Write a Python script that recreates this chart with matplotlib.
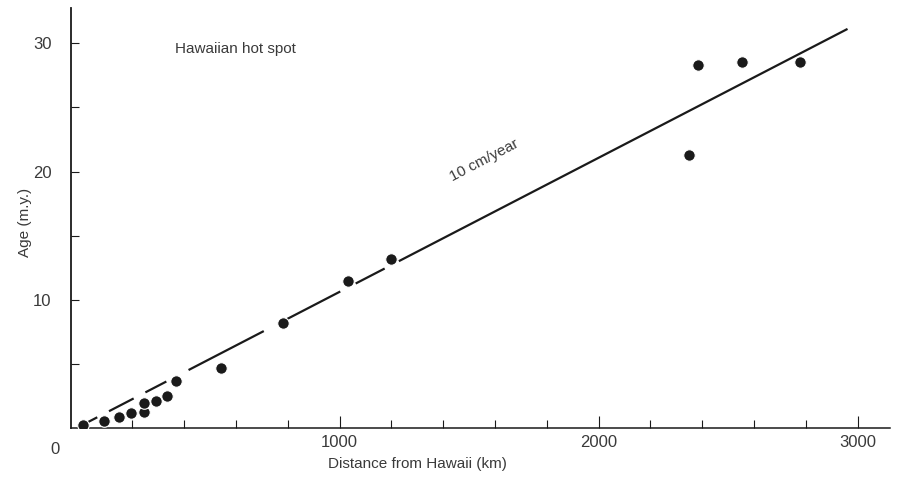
import numpy as np
import matplotlib.pyplot as plt

# ---- data ----
dist_km = [8, 92, 150, 194, 243, 243, 290, 335, 368, 542, 783, 1032, 1198,
           2348, 2383, 2553, 2779]
age_my = [0.27, 0.6, 0.87, 1.18, 1.3, 2.0, 2.14, 2.5, 3.7, 4.7, 8.2, 11.45, 13.2,
          21.3, 28.3, 28.5, 28.5]

# 10 cm/year reference line (end points)
fit_dist = [24, 2961]
fit_age = [0.45, 31.1]

x_ticks = [1000, 2000, 3000]
x_minor = [200, 400, 600, 800, 1200, 1400, 1600, 1800, 2200, 2400, 2600, 2800, 3000]
y_ticks = [10, 20, 30]
y_minor = [5, 15, 25]

plt.rcParams['font.family'] = ['Liberation Sans', 'DejaVu Sans']
plt.rcParams['lines.scale_dashes'] = False
ink = '#1a1a1a'
txt = '#3a3a3a'

fig = plt.figure(figsize=(9.02, 4.84), dpi=100)
ax = fig.add_axes([0.0787, 0.1147, 0.908, 0.868])

# line is broken near the origin (dash lengths in points), solid afterwards
line, = ax.plot(fit_dist, fit_age, color=ink, lw=1.6, solid_capstyle='butt')
line.set_dashes([8.5, 9.5, 20, 9.5, 17, 18, 61, 19, 43, 12.5, 23.5, 11.5, 3000, 1])

ax.plot(dist_km, age_my, 'o', ms=8.3, color=ink, mec='white', mew=0.8, zorder=3)

ax.set_xlim(-37, 3125)
ax.set_ylim(0, 32.7)

ax.spines['top'].set_visible(False)
ax.spines['right'].set_visible(False)
ax.spines['left'].set_linewidth(1.3)
ax.spines['bottom'].set_linewidth(1.1)
ax.spines['left'].set_color(ink)
ax.spines['bottom'].set_color(ink)

ax.set_xticks(x_ticks)
ax.set_xticks(x_minor, minor=True)
ax.set_yticks(y_ticks)
ax.set_yticks(y_minor, minor=True)
ax.tick_params(axis='both', which='both', direction='in', color=ink, width=0.8,
               labelcolor=txt, labelsize=12)
ax.tick_params(axis='x', which='major', length=9, pad=5)
ax.tick_params(axis='x', which='minor', length=6)
ax.tick_params(axis='y', which='both', length=6, pad=14)

ax.text(-80, -1.6, '0', ha='right', va='center', fontsize=12, color=txt,
        clip_on=False)

ax.set_xlabel('Distance from Hawaii (km)', fontsize=11, color=txt)
ax.set_ylabel('Age (m.y.)', fontsize=11, color=txt)
ax.xaxis.set_label_coords(0.4225, -0.068)
ax.yaxis.set_label_coords(-0.047, 0.49)

ax.text(365, 29.5, 'Hawaiian hot spot', fontsize=11, color=txt, va='center')
ax.text(1560, 20.9, '10 cm/year', fontsize=11, color=txt, ha='center',
        va='center', rotation=27.5)

fig.savefig('out.png', dpi=100)
